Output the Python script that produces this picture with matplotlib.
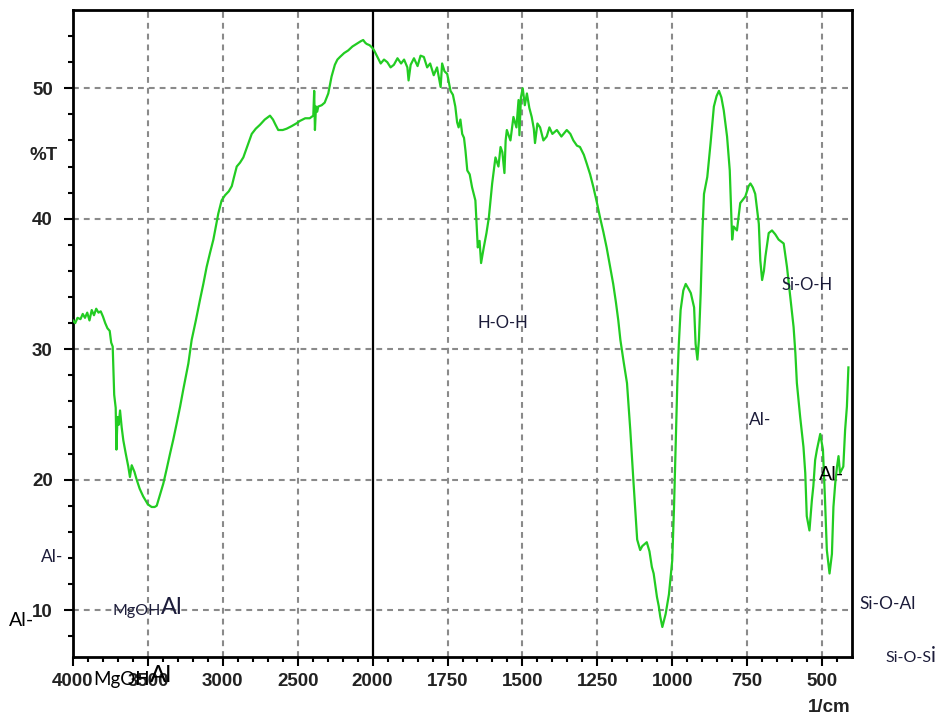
import numpy as np
import matplotlib
matplotlib.use("Agg")
import matplotlib.pyplot as plt
from matplotlib.ticker import FixedLocator, NullFormatter

# ---- data (wavenumber in 1/cm, transmittance %T) ----
wavenumber = [
    4000, 3985, 3970, 3950, 3935, 3920, 3905, 3890, 3875, 3860, 3845, 3830, 3815, 3800,
    3785, 3770, 3755, 3745, 3735, 3725, 3715, 3710, 3703, 3695, 3686, 3675, 3664, 3648,
    3631, 3620, 3608, 3590, 3575, 3555, 3531, 3500, 3475, 3455, 3441, 3420, 3397, 3375,
    3352, 3330, 3308, 3285, 3264, 3230, 3208, 3180, 3152, 3130, 3108, 3085, 3063, 3045,
    3030, 3008, 2985, 2960, 2940, 2925, 2907, 2885, 2863, 2835, 2807, 2780, 2752, 2720,
    2685, 2665, 2648, 2630, 2600, 2574, 2540, 2510, 2485, 2450, 2420, 2396, 2390, 2385,
    2378, 2370, 2363, 2340, 2320, 2296, 2274, 2252, 2235, 2218, 2190, 2163, 2135, 2107,
    2080, 2063, 2050, 2040, 2020, 2002,
    1995, 1984, 1973, 1962, 1951, 1940, 1929, 1917, 1905, 1895, 1884, 1880, 1873, 1862,
    1850, 1840, 1829, 1818, 1808, 1796, 1785, 1773, 1768, 1760, 1751, 1740, 1732, 1724,
    1718, 1713, 1707, 1701, 1695, 1690, 1684, 1676, 1668, 1657, 1649, 1643, 1638, 1629,
    1620, 1612, 1601, 1590, 1580, 1573, 1567, 1560, 1556, 1552, 1540, 1530, 1520, 1513,
    1510, 1505, 1499, 1492, 1485, 1477, 1469, 1462, 1458, 1450, 1441, 1430, 1419, 1410,
    1400, 1385, 1370, 1352, 1340, 1330, 1318, 1308, 1295, 1285, 1274, 1263, 1252, 1241,
    1230, 1219, 1208, 1197, 1188, 1180, 1173, 1162, 1151, 1140, 1129, 1117, 1107, 1100,
    1085, 1076, 1068, 1062, 1051, 1045, 1040, 1033, 1022, 1011, 1000, 994, 989, 983,
    978, 972, 963, 955, 945, 938, 927, 922, 916, 911, 905, 899, 894, 883, 872, 861, 852,
    844, 836, 828, 817, 808, 803, 800, 795, 784, 773, 756, 745, 739, 731, 723, 711, 706,
    700, 694, 689, 678, 667, 656, 645, 628, 617, 606, 595, 589, 584, 573, 562, 556, 551,
    542, 534, 529, 523, 517, 506, 497, 490, 484, 475, 467, 462, 456, 450, 445, 440, 429,
    423, 417, 412,
]
transmittance = [
    32.2, 32.0, 32.4, 32.3, 32.7, 32.4, 32.8, 32.2, 33.0, 32.6, 33.1, 32.8, 32.9, 32.5,
    32.0, 31.6, 31.4, 30.5, 30.2, 26.5, 25.5, 22.3, 24.8, 24.2, 25.3, 24.0, 23.0, 22.0,
    21.0, 20.2, 21.1, 20.6, 20.0, 19.3, 18.7, 18.1, 17.9, 17.9, 18.0, 18.8, 19.7, 20.8,
    22.0, 23.1, 24.3, 25.6, 26.9, 28.9, 30.7, 32.2, 33.8, 35.0, 36.3, 37.4, 38.4, 39.5,
    40.4, 41.4, 41.8, 42.1, 42.5, 43.2, 44.0, 44.3, 44.7, 45.6, 46.5, 46.9, 47.2, 47.6,
    47.9, 47.6, 47.2, 46.8, 46.8, 46.9, 47.1, 47.3, 47.5, 47.7, 47.7, 47.9, 49.8, 46.8,
    48.6, 48.2, 48.6, 48.7, 48.9, 49.6, 50.9, 51.8, 52.2, 52.4, 52.7, 52.9, 53.2, 53.4,
    53.6, 53.7, 53.5, 53.4, 53.3, 53.1,
    52.9, 52.4, 51.9, 52.2, 52.0, 51.6, 51.8, 52.3, 51.9, 52.2, 51.6, 50.6, 51.8, 52.3,
    51.7, 52.5, 52.4, 51.6, 51.9, 51.0, 51.6, 50.1, 51.9, 51.3, 51.1, 49.8, 49.5, 48.6,
    47.4, 47.0, 47.6, 46.5, 46.2, 45.2, 43.7, 43.4, 42.4, 41.4, 37.8, 38.3, 36.6, 37.8,
    38.9, 40.1, 42.7, 44.7, 44.0, 45.5, 45.1, 43.5, 46.0, 46.8, 46.0, 47.8, 47.0, 49.1,
    46.4, 49.3, 50.0, 48.7, 49.6, 48.5, 47.8, 46.9, 45.8, 47.3, 47.0, 46.0, 46.3, 47.0,
    46.5, 46.8, 46.3, 46.8, 46.5, 46.0, 45.6, 45.5, 44.9, 44.2, 43.4, 42.4, 41.3, 40.1,
    39.0, 37.8, 36.4, 35.0, 33.6, 32.2, 30.7, 29.0, 27.4, 23.8, 19.7, 15.4, 14.6, 14.9,
    15.2, 14.5, 13.3, 12.8, 11.0, 10.3, 9.5, 8.7, 9.7, 11.2, 13.8, 17.9, 22.3, 27.4,
    30.4, 33.0, 34.5, 35.0, 34.6, 34.3, 33.2, 30.4, 29.2, 30.7, 34.3, 39.1, 41.9, 43.2,
    45.8, 48.6, 49.4, 49.8, 49.3, 48.3, 46.3, 43.7, 40.4, 38.4, 39.4, 39.1, 41.2, 41.7,
    42.5, 42.7, 42.4, 41.9, 39.6, 36.8, 35.3, 36.0, 37.1, 38.9, 39.1, 38.8, 38.4, 38.1,
    36.3, 34.0, 31.7, 29.7, 27.4, 24.8, 22.5, 20.5, 17.2, 16.1, 18.4, 19.5, 21.5, 22.3,
    23.5, 22.3, 18.4, 14.6, 12.8, 14.3, 17.9, 19.7, 21.0, 21.8, 20.5, 21.0, 23.8, 25.6,
    28.6,
]

x_major = [4000, 3500, 3000, 2500, 2000, 1750, 1500, 1250, 1000, 750, 500]
x_labels = ["4000", "3500", "3000", "2500", "2000", "1750", "1500", "1250", "1000", "750", "500"]
y_major = [10, 20, 30, 40, 50]
y_labels = ["10", "20", "30", "40", "50"]
break_wn = 2000

# ---- scale: 500 1/cm per division above 2000, 250 below (monotonic increasing) ----
def fwd(x):
    x = np.asarray(x, dtype=float)
    return np.where(x >= 2000, 6.4 + (x - 2000) / 500.0, (x - 400) / 250.0)

def inv(u):
    u = np.asarray(u, dtype=float)
    return np.where(u >= 6.4, 2000 + 500.0 * (u - 6.4), 400 + 250.0 * u)

W, H = 939, 719
fig = plt.figure(figsize=(W / 100, H / 100), dpi=100)
ax = fig.add_axes([73 / W, 1 - 657 / H, (852 - 73) / W, (657 - 10) / H])
ax.set_xscale("function", functions=(fwd, inv))
ax.set_xlim(4000, 400)
ax.set_ylim(6.4, 56)

grid_kw = dict(color="#8a8a8a", lw=1.5, ls=(0, (2.8, 2.4)), zorder=1)
for xv in x_major:
    if xv != break_wn:
        ax.axvline(xv, **grid_kw)
for yv in y_major:
    ax.axhline(yv, **grid_kw)
ax.axvline(break_wn, color="black", lw=1.6, zorder=2)

ax.plot(wavenumber, transmittance, color="#22cc22", lw=1.6, zorder=3)

ax.xaxis.set_major_locator(FixedLocator(x_major))
ax.set_xticklabels(x_labels)
minor_x = [v for v in range(3900, 2000, -100) if v % 500] + [v for v in range(1950, 400, -50) if v % 250]
ax.xaxis.set_minor_locator(FixedLocator(minor_x))
ax.xaxis.set_minor_formatter(NullFormatter())
ax.yaxis.set_major_locator(FixedLocator(y_major))
ax.set_yticklabels(y_labels)
ax.yaxis.set_minor_locator(FixedLocator([v for v in range(8, 56, 2) if v % 10]))

tick_font = dict(family="Liberation Sans", weight="bold", size=13.5)
for lab in ax.get_xticklabels() + ax.get_yticklabels():
    lab.set_fontfamily(tick_font["family"])
    lab.set_fontweight(tick_font["weight"])
    lab.set_fontsize(tick_font["size"])
    lab.set_color("#222222")
ax.tick_params(which="major", direction="out", length=6.5, width=1.5, pad=5, color="black")
ax.tick_params(axis="y", which="major", pad=8)
ax.tick_params(which="minor", direction="out", length=3.5, width=1.5, color="black")
for sp in ax.spines.values():
    sp.set_linewidth(2.0)

def ftext(x, y, s, size, color="black", ha="left", family="Lato", weight="normal"):
    fig.text(x / W, 1 - y / H, s, fontsize=size, color=color, ha=ha, va="center",
             family=family, weight=weight)

ftext(30, 155, "%T", 13.5, color="#222222", family="Liberation Sans", weight="bold")
ftext(808, 708, "1/cm", 13.5, color="#222222", family="Liberation Sans", weight="bold")

navy = "#1c1c3a"
ftext(477, 323, "H-O-H", 12, navy)
ftext(782, 285, "Si-O-H", 12, navy)
ftext(749, 420, "Al-", 12.5, navy)
ftext(819, 475, "Al-", 14, "black")
ftext(859, 604, "Si-O-Al", 12.5, navy)
ftext(885, 658, "Si-O-S", 11.5, navy)
ftext(931, 656, "i", 15, navy)
ftext(41, 557, "Al-", 12.5, navy)
ftext(9, 621, "Al-", 14, "black")
ftext(112, 611, "MgOH", 11.5, navy)
ftext(161, 608, "Al", 17, navy)
ftext(93, 679, "MgOH", 13.5, "black")
ftext(150, 676, "Al", 17.5, "black")

fig.savefig("out.png", dpi=100)
